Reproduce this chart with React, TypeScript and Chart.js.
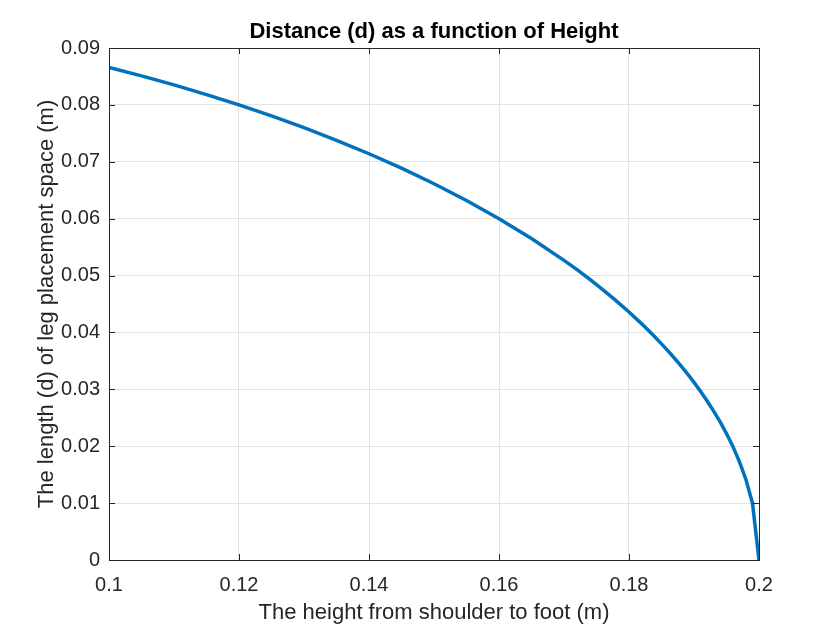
import React, { useEffect, useRef } from "react";
import { Chart, registerables } from "chart.js";

Chart.register(...registerables);

const heights = [
  0.1, 0.105, 0.11, 0.115, 0.12, 0.125, 0.13, 0.135, 0.14, 0.145, 0.15, 0.155,
  0.16, 0.165, 0.17, 0.172, 0.174, 0.175, 0.176, 0.178, 0.18, 0.182, 0.184,
  0.185, 0.186, 0.187, 0.188, 0.189, 0.19, 0.191, 0.192, 0.193, 0.194, 0.195,
  0.196, 0.197, 0.198, 0.199, 0.2,
];
const distances = [
  0.086603, 0.08511, 0.083516, 0.081815, 0.08, 0.078062, 0.075993, 0.073782,
  0.071414, 0.068875, 0.066144, 0.063196, 0.06, 0.056513, 0.052678, 0.051029,
  0.049305, 0.048412, 0.047497, 0.045596, 0.043589, 0.041461, 0.039192,
  0.037997, 0.036756, 0.035465, 0.034117, 0.032707, 0.031225, 0.029661, 0.028,
  0.026225, 0.024311, 0.02222, 0.0199, 0.017255, 0.014107, 0.009987, 0,
];
const titleText = "Distance (d) as a function of Height";
const xLabel = "The height from shoulder to foot (m)";
const yLabel = "The length (d) of leg placement space (m)";

const TEXT = "#262626";
const FONT = "Arial, 'Liberation Sans', Helvetica, sans-serif";

const framePlugin = {
  id: "frame",
  afterDraw(chart: any) {
    const { ctx, chartArea } = chart;
    const { left, right, top, bottom } = chartArea;
    const xs = chart.scales.x;
    const ys = chart.scales.y;
    ctx.save();
    ctx.strokeStyle = TEXT;
    ctx.lineWidth = 1;
    xs.ticks.forEach((t: any) => {
      const px = Math.round(xs.getPixelForValue(t.value)) + 0.5;
      ctx.beginPath();
      ctx.moveTo(px, bottom);
      ctx.lineTo(px, bottom - 6);
      ctx.moveTo(px, top);
      ctx.lineTo(px, top + 6);
      ctx.stroke();
    });
    ys.ticks.forEach((t: any) => {
      const py = Math.round(ys.getPixelForValue(t.value)) + 0.5;
      ctx.beginPath();
      ctx.moveTo(left, py);
      ctx.lineTo(left + 6, py);
      ctx.moveTo(right, py);
      ctx.lineTo(right - 6, py);
      ctx.stroke();
    });
    ctx.strokeRect(Math.round(left) + 0.5, Math.round(top) + 0.5, Math.round(right - left), Math.round(bottom - top));
    ctx.fillStyle = "#000000";
    ctx.font = `bold 22px ${FONT}`;
    ctx.textAlign = "center";
    ctx.textBaseline = "middle";
    ctx.fillText(titleText, (left + right) / 2, 32);
    ctx.restore();
  },
};

export default function App() {
  const ref = useRef<HTMLCanvasElement>(null);
  useEffect(() => {
    document.body.style.margin = "0";
    const canvas = ref.current!;
    const chart = new Chart(canvas, {
      type: "line",
      data: {
        datasets: [
          {
            data: heights.map((h, i) => ({ x: h, y: distances[i] })),
            borderColor: "#0072BD",
            borderWidth: 3.5,
            pointRadius: 0,
            tension: 0,
            fill: false,
          },
        ],
      },
      options: {
        animation: false,
        responsive: false,
        maintainAspectRatio: false,
        plugins: { legend: { display: false }, tooltip: { enabled: false } },
        layout: { padding: { left: 28, top: 48, right: 81, bottom: 0 } },
        scales: {
          x: {
            type: "linear",
            min: 0.1,
            max: 0.2,
            ticks: {
              stepSize: 0.02,
              color: TEXT,
              font: { family: FONT, size: 20 },
              padding: 13,
              maxRotation: 0,
              callback: (v: any) => String(Math.round(Number(v) * 100) / 100),
            },
            grid: { color: "#e3e3e3", drawTicks: false, tickLength: 0 },
            border: { display: false },
            title: {
              display: true,
              text: xLabel,
              color: TEXT,
              font: { family: FONT, size: 22 },
              padding: { top: 0, bottom: 4 },
            },
            afterFit: (s: any) => {
              s.height = 70;
            },
          },
          y: {
            type: "linear",
            min: 0,
            max: 0.09,
            ticks: {
              stepSize: 0.01,
              color: TEXT,
              font: { family: FONT, size: 20 },
              padding: 9,
              callback: (v: any) => String(Math.round(Number(v) * 100) / 100),
            },
            grid: { color: "#e3e3e3", drawTicks: false, tickLength: 0 },
            border: { display: false },
            title: {
              display: true,
              text: yLabel,
              color: TEXT,
              font: { family: FONT, size: 22 },
              padding: { top: 6, bottom: 0 },
            },
            afterFit: (s: any) => {
              s.width = 81;
            },
          },
        },
      },
      plugins: [framePlugin],
    });
    return () => chart.destroy();
  }, []);
  return <canvas ref={ref} width={840} height={630} style={{ display: "block" }} />;
}
